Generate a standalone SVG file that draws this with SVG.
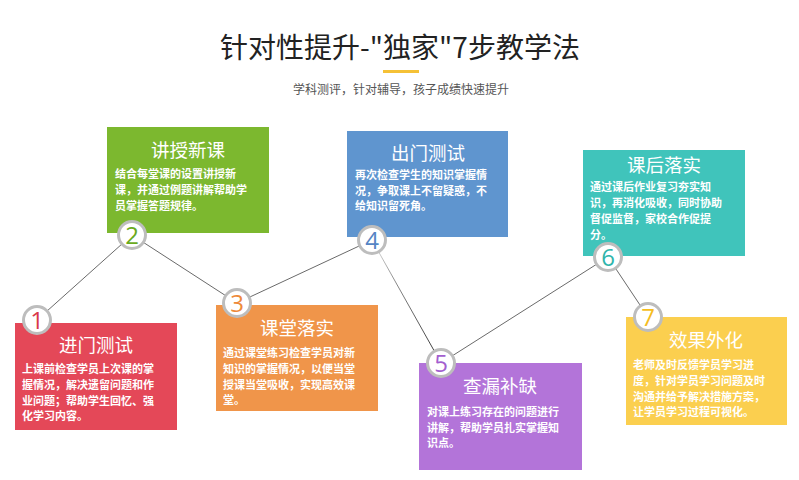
<svg xmlns="http://www.w3.org/2000/svg" width="799" height="480" viewBox="0 0 799 480">
<defs>
<style>
.bg{fill:#ffffff}
.title{font-family:"Noto Sans CJK SC","Noto Sans",sans-serif;font-size:28px;fill:#222;text-anchor:middle}
.sub{font-family:"Noto Sans CJK SC",sans-serif;font-size:12px;fill:#555;text-anchor:middle}
.ht{font-family:"Noto Sans CJK SC",sans-serif;font-size:18.5px;fill:#fff;text-anchor:middle}
.bt{font-family:"Noto Sans CJK SC",sans-serif;font-size:11px;fill:#fff;font-weight:bold}
.ring{fill:#fff;stroke:#bdbdbd;stroke-width:3}
.num{font-family:"Open Sans","DejaVu Sans",sans-serif;font-size:24px;text-anchor:middle}
.ln{stroke:#6a6a6a;stroke-width:1;fill:none}
</style>
<linearGradient id="fade" gradientUnits="userSpaceOnUse" x1="372" y1="240" x2="441" y2="363">
<stop offset="0" stop-color="#e6e6e6"/>
<stop offset="0.35" stop-color="#888"/>
<stop offset="1" stop-color="#333"/>
</linearGradient>
</defs>
<rect class="bg" width="799" height="480"/>
<g id="header">
<text class="title" x="400" y="58">针对性提升-"独家"7步教学法</text>
<rect x="383" y="70" width="36" height="3" fill="#f5c136"/>
<text class="sub" x="401" y="94">学科测评，针对辅导，孩子成绩快速提升</text>
</g>
<g id="connectors">
<line class="ln" x1="37" y1="320" x2="132" y2="235"/>
<line class="ln" x1="132" y1="235" x2="237" y2="303"/>
<line class="ln" x1="237" y1="303" x2="372" y2="240"/>
<line x1="372" y1="240" x2="441" y2="363" stroke="url(#fade)" stroke-width="1"/>
<line class="ln" x1="441" y1="363" x2="608" y2="257"/>
<line class="ln" x1="608" y1="257" x2="648" y2="317"/>
</g>
<g id="node1">
<rect x="15" y="323" width="162" height="107" fill="#e44858"/>
<text class="ht" x="96" y="352">进门测试</text>
<text class="bt" x="22" y="373">上课前检查学员上次课的掌</text>
<text class="bt" x="22" y="389">握情况，解决遗留问题和作</text>
<text class="bt" x="22" y="405">业问题；帮助学生回忆、强</text>
<text class="bt" x="22" y="420">化学习内容。</text>
<circle class="ring" cx="37" cy="320" r="13.5"/>
<text class="num" x="37" y="329" fill="#d9384a">1</text>
</g>
<g id="node2">
<rect x="107" y="127" width="162" height="106" fill="#7cb82f"/>
<text class="ht" x="188" y="157">讲授新课</text>
<text class="bt" x="115" y="178">结合每堂课的设置讲授新</text>
<text class="bt" x="115" y="194">课，并通过例题讲解帮助学</text>
<text class="bt" x="115" y="210">员掌握答题规律。</text>
<circle class="ring" cx="132" cy="235" r="13.5"/>
<text class="num" x="132" y="244" fill="#6aaa1e">2</text>
</g>
<g id="node3">
<rect x="216" y="305" width="162" height="106" fill="#f0954a"/>
<text class="ht" x="297" y="335">课堂落实</text>
<text class="bt" x="223" y="357">通过课堂练习检查学员对新</text>
<text class="bt" x="223" y="373">知识的掌握情况，以便当堂</text>
<text class="bt" x="223" y="389">授课当堂吸收，实现高效课</text>
<text class="bt" x="223" y="404">堂。</text>
<circle class="ring" cx="237" cy="303" r="13.5"/>
<text class="num" x="237" y="312" fill="#ee8a3a">3</text>
</g>
<g id="node4">
<rect x="347" y="131" width="161" height="106" fill="#5f95cf"/>
<text class="ht" x="428" y="160">出门测试</text>
<text class="bt" x="355" y="179">再次检查学生的知识掌握情</text>
<text class="bt" x="355" y="195">况，争取课上不留疑惑，不</text>
<text class="bt" x="355" y="210">给知识留死角。</text>
<circle class="ring" cx="372" cy="240" r="13.5"/>
<text class="num" x="372" y="249" fill="#5585c4">4</text>
</g>
<g id="node5">
<rect x="419" y="363" width="163" height="107" fill="#b374d9"/>
<text class="ht" x="500" y="393">查漏补缺</text>
<text class="bt" x="427" y="416">对课上练习存在的问题进行</text>
<text class="bt" x="427" y="432">讲解，帮助学员扎实掌握知</text>
<text class="bt" x="427" y="447">识点。</text>
<circle class="ring" cx="441" cy="363" r="13.5"/>
<text class="num" x="441" y="372" fill="#a35fcf">5</text>
</g>
<g id="node6">
<rect x="583" y="150" width="162" height="106" fill="#40c4bb"/>
<text class="ht" x="664" y="172">课后落实</text>
<text class="bt" x="590" y="191">通过课后作业复习夯实知</text>
<text class="bt" x="590" y="207">识，再消化吸收，同时协助</text>
<text class="bt" x="590" y="223">督促监督，家校合作促提</text>
<text class="bt" x="590" y="239">分。</text>
<circle class="ring" cx="608" cy="257" r="13.5"/>
<text class="num" x="608" y="265.5" font-size="22" fill="#2fb5ac">6</text>
</g>
<g id="node7">
<rect x="626" y="317" width="161" height="108" fill="#fbcf4f"/>
<text class="ht" x="706" y="347">效果外化</text>
<text class="bt" x="633" y="369">老师及时反馈学员学习进</text>
<text class="bt" x="633" y="385">度，针对学员学习问题及时</text>
<text class="bt" x="633" y="401">沟通并给予解决措施方案，</text>
<text class="bt" x="633" y="416">让学员学习过程可视化。</text>
<circle class="ring" cx="648" cy="317" r="13.5"/>
<text class="num" x="648" y="326" fill="#f5bd1e">7</text>
</g>
</svg>
